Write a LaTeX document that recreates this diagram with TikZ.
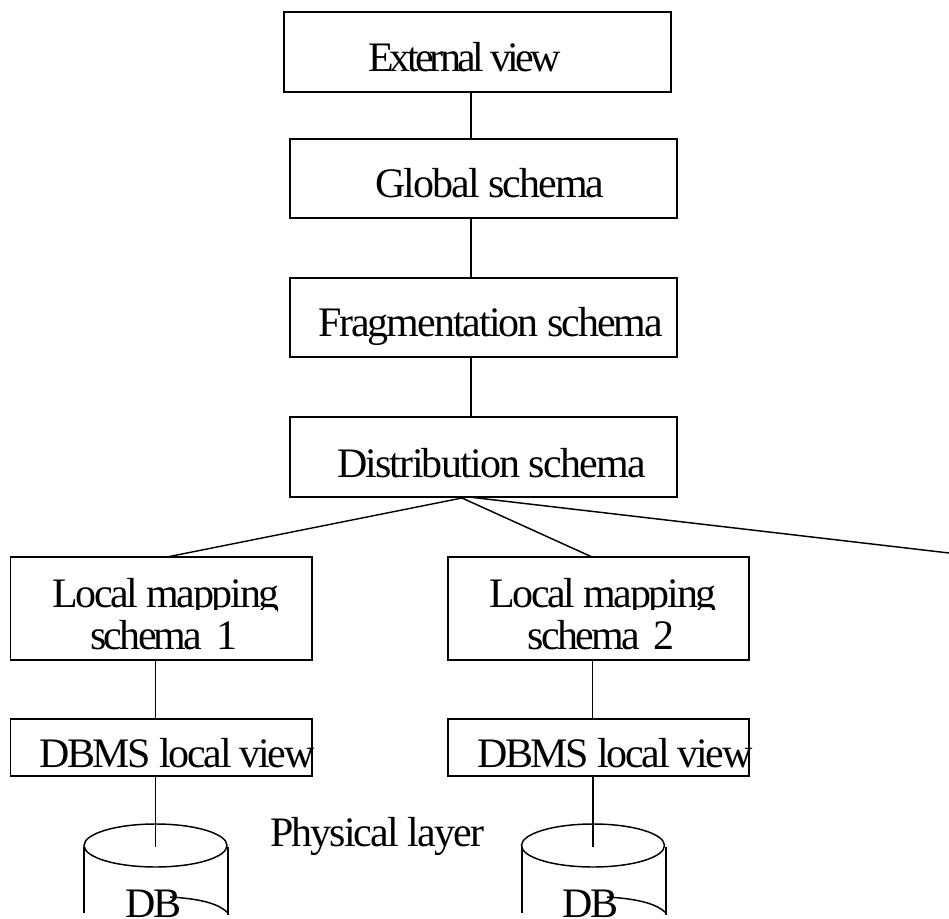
\documentclass[tikz,border=0pt]{standalone}
\usepackage{fontspec}
\setmainfont{Liberation Serif}
\usetikzlibrary{fit}
\usetikzlibrary{calc}
\tikzset{
  schemabox/.style={shape=rectangle,draw=black,line width=1.1pt,inner sep=0mm,outer sep=0mm},
  schematext/.style={anchor=base west,inner sep=0mm,outer sep=0mm,font=\fontsize{31.5}{36}\selectfont\addfontfeature{LetterSpace=#1}},
  schematext/.default=-5.5,
  schemaline/.style={line width=1.1pt},
  maskedtext/.style={schematext=#1,fill=white,text width=170pt,align=center,text depth=6pt,text height=29pt}
}
\newcommand\dbcylinder[4]{
  \draw[schemaline] (#1,845.5) ellipse [x radius=71.5, y radius=21.5];
  \draw[schemaline] (#2,847) -- (#2,913);
  \draw[schemaline] (#3,847) -- (#3,915);
  \draw[schemaline] (#4,897) .. controls ($(#4,897)+(35,2)$) and ($(#3,913)+(-8,-8)$) .. (#3,913);
}
\begin{document}
\begin{tikzpicture}[x=0.75pt, y=-0.75pt]
\useasboundingbox (0,0) rectangle (949,919);
\coordinate (spine) at (471,0);
\coordinate (fan) at (462,498);
\coordinate (fanright) at (469,497);
\coordinate (offpage) at (949,553);
\coordinate (leftdrop) at (155.5,0);
\coordinate (rightdrop) at (592.5,0);
\coordinate (leftfoot) at (167,557);
\coordinate (rightfoot) at (592,557);
\node[schemabox, fit={(284,12) (671,92)}] (external) {};
\node[schemabox, fit={(290,139) (677,218)}] (global) {};
\node[schemabox, fit={(290,278) (677,357)}] (fragmentation) {};
\node[schemabox, fit={(290,417) (677,497)}] (distribution) {};
\node[schemabox, fit={(10.5,557) (312,660)}] (mappingone) {};
\node[schemabox, fit={(448,557) (749,660)}] (mappingtwo) {};
\node[schemabox, fit={(10.5,719) (312,776)}] (localone) {};
\node[schemabox, fit={(448,719) (749,776)}] (localtwo) {};
\node[schematext=-9] (externaltext) at (368,72) {External view};
\node[schematext=-4.6] (globaltext) at (375,198) {Global schema};
\node[schematext=-4.8] (fragmentationtext) at (318,337) {Fragmentation schema};
\node[schematext=-4.3] (distributiontext) at (337,477) {Distribution schema};
\node[schematext] (mappingonetext) at (52,607) {Local mapping};
\node[maskedtext=-6.5] (schemaonetext) at (50.5,649) {schema 1};
\node[schematext] (mappingtwotext) at (489,607) {Local mapping};
\node[maskedtext=-6.5] (schematwotext) at (488,649) {schema 2};
\node[schematext] (localonetext) at (39,767) {DBMS local view};
\node[schematext] (localtwotext) at (477,767) {DBMS local view};
\node[schematext=-4.5] (physicaltext) at (270,846) {Physical layer};
\node[schematext, text depth=0pt] (dbonetext) at (125,917) {DB};
\node[schematext, text depth=0pt] (dbtwotext) at (562,917) {DB};
\draw[schemaline, line width=1.5pt] (external.south -| spine) -- (global.north -| spine);
\draw[schemaline] (global.south -| spine) -- (fragmentation.north -| spine);
\draw[schemaline] (fragmentation.south -| spine) -- (distribution.north -| spine);
\draw[schemaline] (fan) -- (leftfoot);
\draw[schemaline] (fan) -- (rightfoot);
\draw[schemaline] (fanright) -- (offpage);
\draw[schemaline] (mappingone.south -| leftdrop) -- (localone.north -| leftdrop);
\draw[schemaline] (mappingtwo.south -| rightdrop) -- (localtwo.north -| rightdrop);
\coordinate (leftdbtop) at (155.5,847);
\coordinate (rightdbtop) at (593,847);
\dbcylinder{155.5}{84}{228}{170}
\dbcylinder{593}{522}{666}{607}
\draw[schemaline] (localone.south -| leftdbtop) -- (leftdbtop);
\draw[schemaline] (localtwo.south -| rightdbtop) -- (rightdbtop);
\end{tikzpicture}
\end{document}
